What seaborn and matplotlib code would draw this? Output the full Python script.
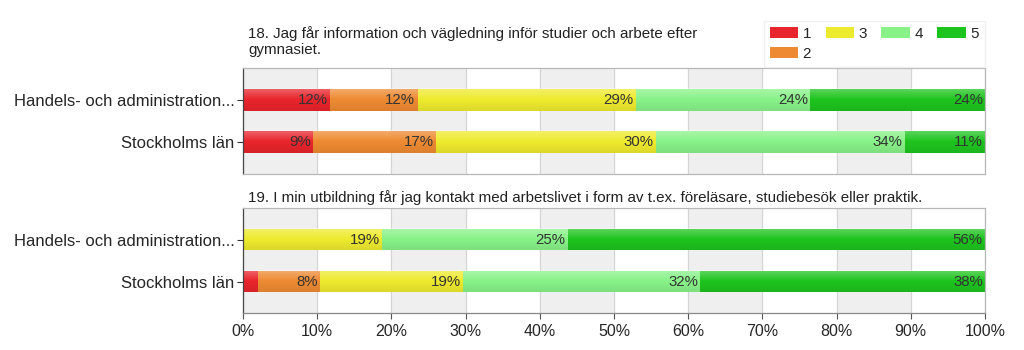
import numpy as np
import pandas as pd
import matplotlib
matplotlib.use('Agg')
import matplotlib.pyplot as plt
import seaborn as sns
from matplotlib.patches import Patch

# Data (percent per answer level 1..5)
categories = ['Handels- och administration...', 'Stockholms län']
levels = ['1', '2', '3', '4', '5']
q18_title = '18. Jag får information och vägledning inför studier och arbete efter\ngymnasiet.'
q18_handels = [11.76, 11.76, 29.41, 23.53, 23.54]
q18_sthlm = [9.4, 16.6, 29.6, 33.6, 10.8]
q19_title = '19. I min utbildning får jag kontakt med arbetslivet i form av t.ex. föreläsare, studiebesök eller praktik.'
q19_handels = [0.0, 0.0, 18.75, 25.0, 56.25]
q19_sthlm = [2.0, 8.4, 19.3, 31.9, 38.4]
x_ticks = [0, 10, 20, 30, 40, 50, 60, 70, 80, 90, 100]

colors = ['#e8242c', '#ee8a32', '#eeea2e', '#88f288', '#1ec41e']
bar_h = 0.52

sns.set_style('white')
plt.rcParams['font.family'] = ['Liberation Sans', 'DejaVu Sans']

fig = plt.figure(figsize=(10.24, 3.5), dpi=100)
ax1 = fig.add_axes([243 / 1024, 1 - 174 / 350, 742 / 1024, 106 / 350])
ax2 = fig.add_axes([243 / 1024, 1 - 313 / 350, 742 / 1024, 105 / 350])

# glossy shading overlay: light on top, slightly darker at the bottom
g = np.linspace(0, 1, 64)
shade = np.zeros((64, 2, 4))
shade[..., :3] = np.where(g < 0.5, 1.0, 0.0)[:, None, None]
shade[..., 3] = np.where(g < 0.5, 0.30 * (1 - g / 0.5), 0.08 * (g - 0.5) / 0.5)[:, None]


def draw_panel(ax, rows, show_xlabels):
    data = pd.DataFrame(rows, index=categories, columns=levels)
    cum = data.cumsum(axis=1)

    # background bands and grid
    for start in range(0, 100, 20):
        ax.axvspan(start, start + 10, color='#efefef', zorder=0)
    for t in x_ticks:
        ax.axvline(t, color='#d4d4d4', lw=0.8, zorder=0.5)

    # stacked bars: draw cumulative totals from the last level backwards
    for lvl, col in reversed(list(zip(levels, colors))):
        df = pd.DataFrame({'cat': categories, 'val': cum[lvl].values})
        sns.barplot(data=df, x='val', y='cat', color=col, saturation=1,
                    width=bar_h, orient='h', ax=ax, zorder=2, linewidth=0)

    # shading and value labels per segment
    for i, cat in enumerate(categories):
        ax.imshow(shade, extent=(0, cum.loc[cat].iloc[-1], i + bar_h / 2, i - bar_h / 2),
                  aspect='auto', zorder=2.5, interpolation='bilinear')
        for lvl in levels:
            v = data.loc[cat, lvl]
            if v >= 5:
                ax.text(cum.loc[cat, lvl] - 0.3, i, f'{v:.0f}%', ha='right',
                        va='center', fontsize=10.8, color='#333333', zorder=3)

    ax.set_xlim(0, 100)
    ax.set_ylim(1.75, -0.75)
    ax.set_xlabel('')
    ax.set_ylabel('')
    ax.set_xticks(x_ticks)
    if show_xlabels:
        ax.set_xticklabels([f'{t}%' for t in x_ticks], fontsize=11.5)
    else:
        ax.set_xticklabels([])
    ax.tick_params(axis='y', labelsize=12, length=4, color='#333333', pad=2, left=True)
    ax.tick_params(axis='x', length=4 if show_xlabels else 0, color='#555555', pad=4, bottom=True)
    for side in ['top', 'right']:
        ax.spines[side].set_color('#b8b8b8')
    ax.spines['left'].set_color('#444444')
    ax.spines['bottom'].set_color('#888888' if show_xlabels else '#b8b8b8')
    for s in ax.spines.values():
        s.set_linewidth(0.9)


draw_panel(ax1, [q18_handels, q18_sthlm], False)
draw_panel(ax2, [q19_handels, q19_sthlm], True)

fig.text(248 / 1024, 1 - 26 / 350, q18_title, ha='left', va='top', fontsize=10.9,
         color='#222222', linespacing=1.15)
fig.text(248 / 1024, 1 - 198 / 350, q19_title, ha='left', va='center', fontsize=10.9,
         color='#222222')

handles = [Patch(facecolor=c, edgecolor='none') for c in colors]
fig.legend(handles, levels, ncol=4, loc='upper left',
           bbox_to_anchor=(756 / 1024, 1 - 13 / 350), frameon=True,
           fancybox=False, edgecolor='#ececec', fontsize=11,
           handlelength=1.85, handleheight=0.7, columnspacing=0.95,
           handletextpad=0.3, labelspacing=0.4, borderpad=0.4)

fig.savefig('out.png', dpi=100)
